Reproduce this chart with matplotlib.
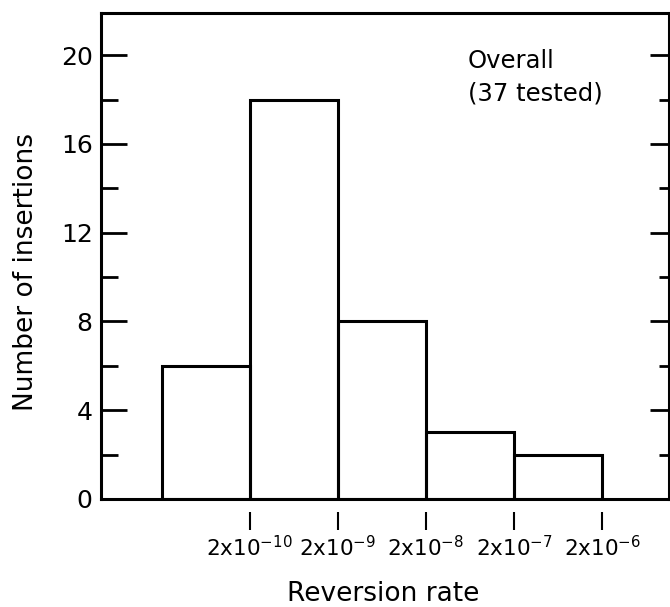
import matplotlib
matplotlib.use('Agg')
from matplotlib import pyplot as plt
from matplotlib.ticker import MultipleLocator, NullLocator
import numpy as np

# histogram of reversion rates, log bins
bin_edges = [2e-11, 2e-10, 2e-9, 2e-8, 2e-7, 2e-6]
counts = [6, 18, 8, 3, 2]
tick_values = [2e-10, 2e-9, 2e-8, 2e-7, 2e-6]
tick_labels = ['2x10$^{-10}$', '2x10$^{-9}$', '2x10$^{-8}$', '2x10$^{-7}$', '2x10$^{-6}$']

W, H = 670, 607
fig = plt.figure(figsize=(W / 100, H / 100), dpi=100)
ax = fig.add_axes([101 / W, 1 - 499 / H, 568 / W, 486 / H])

lefts = bin_edges[:-1]
widths = np.diff(bin_edges)
ax.bar(lefts, counts, width=widths, align='edge', fill=False,
       edgecolor='black', linewidth=2.2)

ax.set_xscale('log')
ax.set_xlim(2e-10 * 10 ** -1.69, 2e-6 * 10 ** 0.76)
ax.set_ylim(0, 21.9)

for side in ['top', 'left', 'right']:
    ax.spines[side].set_linewidth(2.2)
# ticks sit below the axis with a gap, so move the spine down and draw the axis line by hand
ax.spines['bottom'].set_position(('outward', 9.5))
ax.spines['bottom'].set_visible(False)
ax.axhline(0, color='black', linewidth=2.2, clip_on=False)

ax.set_xticks(tick_values, tick_labels)
ax.xaxis.set_minor_locator(NullLocator())
ax.tick_params(axis='x', direction='out', length=13, width=1.5, pad=3.5, labelsize=15.5)

ax.yaxis.set_major_locator(MultipleLocator(4))
ax.yaxis.set_minor_locator(MultipleLocator(2))
ax.tick_params(axis='y', which='major', direction='in', length=18.5, width=2,
               labelsize=18, pad=6)
ax.tick_params(axis='y', which='minor', direction='in', length=12, width=2)

# shorter ticks on the right side
ax2 = ax.twinx()
ax2.set_ylim(ax.get_ylim())
for side in ax2.spines:
    ax2.spines[side].set_visible(False)
ax2.yaxis.set_major_locator(MultipleLocator(4))
ax2.yaxis.set_minor_locator(MultipleLocator(2))
ax2.tick_params(axis='y', which='major', direction='in', length=14, width=2, labelright=False)
ax2.tick_params(axis='y', which='minor', direction='in', length=7, width=2)

ax.text(0.646, 0.868, 'Overall\n(37 tested)', transform=ax.transAxes,
        fontsize=17.5, ha='left', va='center', linespacing=1.45)

ax.set_ylabel('Number of insertions', fontsize=19)
ax.yaxis.set_label_coords(-0.109, 0.467)
ax.set_xlabel('Reversion rate', fontsize=19)
ax.xaxis.set_label_coords(0.496, -0.168)

fig.savefig('out.png', dpi=100)
